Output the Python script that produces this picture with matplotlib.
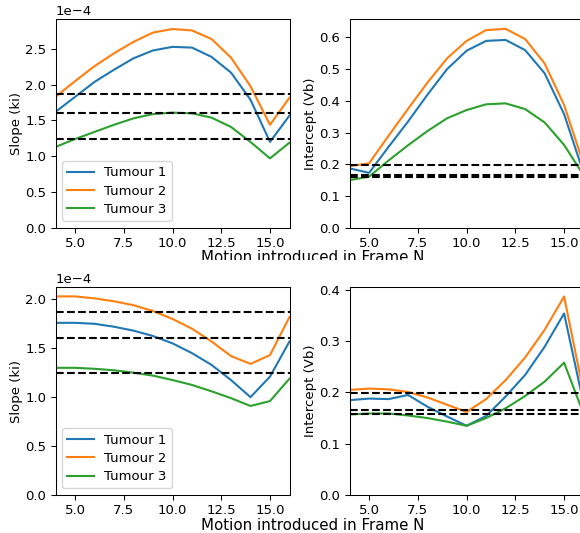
import numpy as np
import matplotlib
matplotlib.use("Agg")
import matplotlib.pyplot as plt
from matplotlib.patches import Rectangle

frames = [4, 5, 6, 7, 8, 9, 10, 11, 12, 13, 14, 15, 16]
labels = ["Tumour 1", "Tumour 2", "Tumour 3"]

# top row (units of 1e-4 for slope)
slope_top = [
    [1.62, 1.83, 2.04, 2.21, 2.37, 2.48, 2.53, 2.52, 2.39, 2.17, 1.79, 1.20, 1.57],
    [1.83, 2.05, 2.26, 2.44, 2.60, 2.73, 2.78, 2.76, 2.64, 2.38, 1.98, 1.44, 1.82],
    [1.13, 1.24, 1.34, 1.44, 1.53, 1.59, 1.61, 1.60, 1.54, 1.41, 1.20, 0.97, 1.19],
]
intercept_top = [
    [0.187, 0.173, 0.255, 0.335, 0.420, 0.500, 0.558, 0.589, 0.592, 0.560, 0.487, 0.358, 0.172],
    [0.194, 0.203, 0.290, 0.375, 0.458, 0.534, 0.589, 0.623, 0.627, 0.595, 0.518, 0.387, 0.200],
    [0.150, 0.161, 0.212, 0.260, 0.305, 0.345, 0.371, 0.389, 0.392, 0.374, 0.332, 0.261, 0.165],
]

# bottom row
slope_bottom = [
    [1.76, 1.76, 1.75, 1.72, 1.68, 1.625, 1.55, 1.45, 1.33, 1.175, 1.00, 1.21, 1.57],
    [2.03, 2.03, 2.01, 1.98, 1.94, 1.88, 1.80, 1.70, 1.57, 1.42, 1.34, 1.43, 1.82],
    [1.30, 1.30, 1.29, 1.275, 1.25, 1.22, 1.175, 1.125, 1.06, 0.99, 0.91, 0.96, 1.19],
]
intercept_bottom = [
    [0.185, 0.188, 0.187, 0.195, 0.172, 0.153, 0.135, 0.154, 0.192, 0.234, 0.289, 0.354, 0.178],
    [0.205, 0.2075, 0.206, 0.201, 0.190, 0.176, 0.162, 0.187, 0.224, 0.268, 0.322, 0.387, 0.200],
    [0.157, 0.159, 0.159, 0.155, 0.150, 0.143, 0.135, 0.150, 0.169, 0.193, 0.221, 0.258, 0.158],
]

# reference (no motion) values
slope_ref = [1.867, 1.600, 1.242]
intercept_ref = [0.199, 0.1665, 0.1587]

colors = ["#1f77b4", "#ff7f0e", "#2ca02c"]

plt.rcParams.update({
    "font.size": 9.5,
    "lines.linewidth": 1.5,
    "axes.linewidth": 0.75,
    "axes.labelpad": 1.5,
    "xtick.major.size": 3.3,
    "ytick.major.size": 3.3,
    "xtick.major.width": 0.75,
    "ytick.major.width": 0.75,
    "xtick.major.pad": 3.3,
    "ytick.major.pad": 3.3,
    "legend.labelspacing": 0.4,
})

fig = plt.figure(figsize=(5.8, 5.33), dpi=100)
W, H = 580.0, 533.0


def make_axes(left, top, right, bottom):
    return fig.add_axes([left / W, 1 - bottom / H, (right - left) / W, (bottom - top) / H])


def plot_slope(ax, series, ymax):
    for s, c, lab in zip(series, colors, labels):
        ax.plot(frames, np.array(s) * 1e-4, color=c, label=lab)
    for r in slope_ref:
        ax.axhline(r * 1e-4, color="k", linestyle="--")
    ax.set_xlim(4, 16)
    ax.set_ylim(0, ymax * 1e-4)
    ax.set_xticks([5, 7.5, 10, 12.5, 15])
    ax.ticklabel_format(axis="y", style="sci", scilimits=(0, 0))
    ax.set_ylabel("Slope (ki)")
    ax.legend(loc="lower left")


def plot_intercept(ax, series, ymax, yticks):
    for s, c, lab in zip(series, colors, labels):
        ax.plot(frames, s, color=c, label=lab)
    for r in intercept_ref:
        ax.axhline(r, color="k", linestyle="--")
    ax.set_xlim(4, 16)
    ax.set_ylim(0, ymax)
    ax.set_xticks([5, 7.5, 10, 12.5, 15])
    ax.set_yticks(yticks)
    ax.set_ylabel("Intercept (Vb)")


ax1 = make_axes(55.5, 19, 289.5, 227.7)
ax2 = make_axes(349.6, 19, 583.6, 227.7)
ax3 = make_axes(55.5, 287.3, 289.5, 495)
ax4 = make_axes(349.6, 287.3, 583.6, 495)

plot_slope(ax1, slope_top, 2.92)
plot_intercept(ax2, intercept_top, 0.658, [0, 0.1, 0.2, 0.3, 0.4, 0.5, 0.6])
plot_slope(ax3, slope_bottom, 2.123)
plot_intercept(ax4, intercept_bottom, 0.405, [0, 0.1, 0.2, 0.3, 0.4])

fig.text(313 / W, 1 - 261.5 / H, "Motion introduced in Frame N", ha="center", va="baseline", fontsize=10.8)
fig.text(313 / W, 1 - 530.5 / H, "Motion introduced in Frame N", ha="center", va="baseline", fontsize=10.8)

# the top panel row was cut just under its label
fig.add_artist(Rectangle((0, 1 - 272 / H), 1, 12.5 / H, transform=fig.transFigure,
                         facecolor="white", edgecolor="none", zorder=10))

fig.savefig("out.png", dpi=100)
